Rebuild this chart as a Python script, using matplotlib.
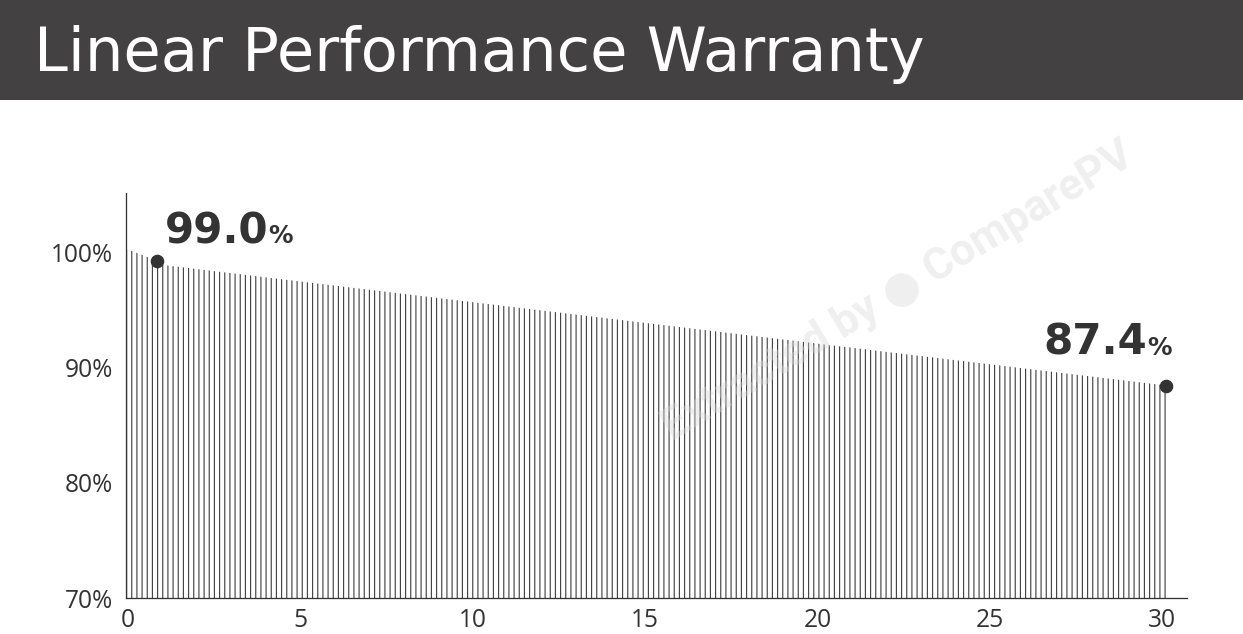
import matplotlib
matplotlib.use("Agg")
import matplotlib.pyplot as plt
from matplotlib.patches import Rectangle

# warranty curve (years, % of nominal power)
years = [-0.06, 0.55, 1.0, 30.17]
warranty = [100.35, 99.65, 98.95, 88.45]

# highlighted points and their labels
dot_years = [0.84, 30.1]
dot_values = [99.28, 88.43]
dot_labels = ["99.0", "87.4"]

xticks = [0, 5, 10, 15, 20, 25, 30]
yticks = [70, 80, 90, 100]
ytick_labels = ["70%", "80%", "90%", "100%"]

DPI = 93
W, H = 1243, 634
ink = "#333333"
line_col = "#444444"

plt.rcParams['hatch.linewidth'] = 0.9
plt.rcParams['hatch.color'] = line_col
plt.rcParams['font.family'] = ['Open Sans', 'DejaVu Sans']

fig = plt.figure(figsize=(W/DPI, H/DPI), dpi=DPI)
fig.patch.set_facecolor("white")

# title banner
fig.patches.append(Rectangle((0, 1 - 100/H), 1, 100/H, transform=fig.transFigure,
                             facecolor="#434142", edgecolor="none", zorder=0))
fig.text(34/W, 1 - 55/H, "Linear Performance Warranty", color="white",
         fontsize=47, va="center", ha="left", family=['DejaVu Sans'])

ax = fig.add_axes([126/W, 36/H, (1187-126)/W, (598-193)/H])
ax.set_xlim(-0.06, 30.72)
ax.set_ylim(70, 105.2)

# vertical line hatching under the warranty curve
ax.fill_between(years, 70, warranty, facecolor="none", edgecolor=line_col,
                hatch="|||", linewidth=0, zorder=1)

ax.plot(dot_years, dot_values, "o", color=ink, markersize=9.5, zorder=3)

# labels: big number + small percent sign
big = dict(fontsize=32.5, fontweight="bold", color=ink, family=['DejaVu Sans'])
small = dict(fontsize=19, fontweight="bold", color=ink, family=['DejaVu Sans'])

t1 = ax.annotate(dot_labels[0], xy=(dot_years[0], dot_values[0]), xytext=(6, 14),
                 textcoords="offset points", ha="left", va="baseline", **big)
ax.annotate("%", xy=(1, 0), xycoords=t1, xytext=(0, 3), textcoords="offset points",
            ha="left", va="bottom", **small)

p2 = ax.annotate("%", xy=(dot_years[1], dot_values[1]), xytext=(5, 24),
                 textcoords="offset points", ha="right", va="baseline", **small)
ax.annotate(dot_labels[1], xy=(0, 0), xycoords=p2, xytext=(0, -3), textcoords="offset points",
            ha="right", va="bottom", **big)

# watermark
fig.text(898/W, 1 - 292/H, "Extracted by \u25cf ComparePV", rotation=31,
         ha="center", va="center", fontsize=34, fontweight="bold",
         color="#d9d9d9", alpha=0.4, family=['Roboto', 'DejaVu Sans'], zorder=5)

for s in ["top", "right"]:
    ax.spines[s].set_visible(False)
for s in ["left", "bottom"]:
    ax.spines[s].set_color(ink)
    ax.spines[s].set_linewidth(1.0)

ax.set_xticks(xticks)
ax.set_xticklabels([str(v) for v in xticks])
ax.set_yticks(yticks)
ax.set_yticklabels(ytick_labels)
ax.tick_params(length=0, labelsize=19, colors=ink)
ax.tick_params(axis="x", pad=8)
ax.tick_params(axis="y", pad=10)

fig.savefig("out.png", dpi=DPI)
